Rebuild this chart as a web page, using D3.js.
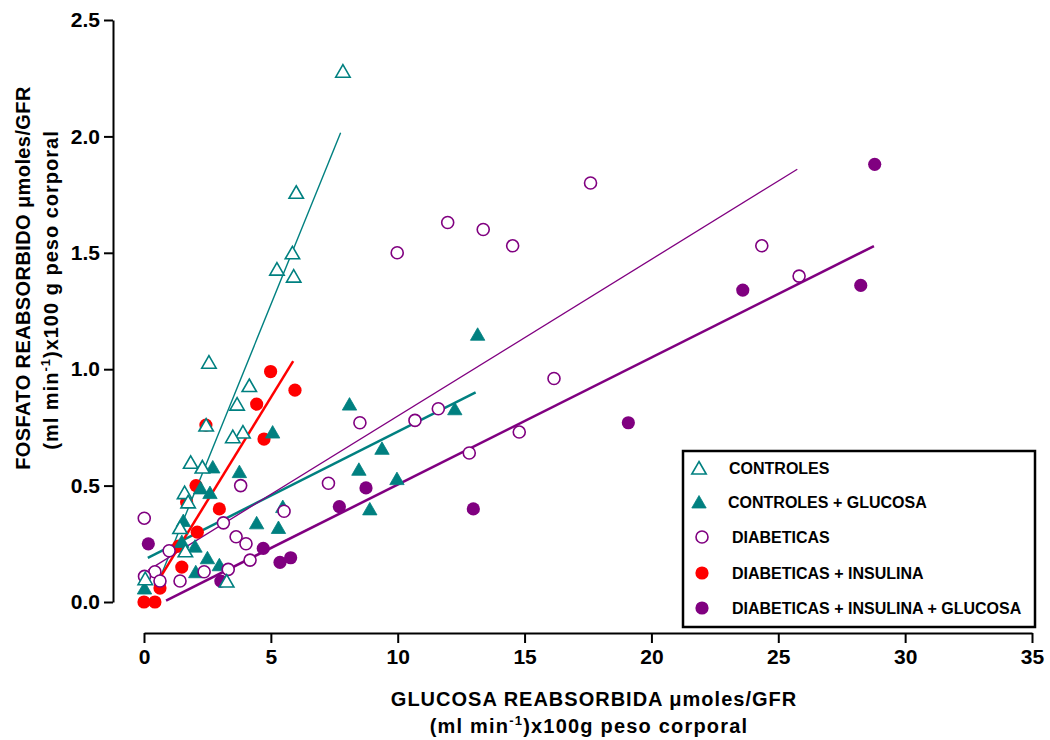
<!DOCTYPE html>
<html>
<head>
<meta charset="utf-8">
<script src="https://cdn.jsdelivr.net/npm/d3@7"></script>
<style>
  body { margin: 0; background: #fff; }
  text { font-family: "Liberation Sans", Arial, sans-serif; font-weight: bold; }
</style>
</head>
<body>
<svg id="chart" width="1050" height="740"></svg>
<script>
// data: [glucosa reabsorbida, fosfato reabsorbido]
const controles = [
  [7.84, 2.28], [6.0, 1.76], [5.85, 1.50], [5.24, 1.43], [5.9, 1.40], [2.56, 1.03],
  [4.15, 0.93], [3.67, 0.85], [3.9, 0.73], [3.5, 0.71], [2.45, 0.76], [1.84, 0.60],
  [2.3, 0.58], [1.6, 0.47], [1.74, 0.43], [1.42, 0.32], [1.63, 0.22], [0.05, 0.10],
  [3.26, 0.09]
];
const controlesGlucosa = [
  [13.15, 1.15], [8.1, 0.85], [12.25, 0.83], [5.07, 0.73], [9.38, 0.66], [8.47, 0.57],
  [9.97, 0.53], [8.9, 0.40], [3.76, 0.56], [2.71, 0.58], [2.23, 0.49], [2.6, 0.47],
  [5.47, 0.41], [4.44, 0.34], [5.3, 0.32], [1.55, 0.35], [1.49, 0.26], [2.01, 0.24],
  [2.5, 0.19], [2.97, 0.16], [2.04, 0.13], [0.02, 0.06]
];
const diabeticas = [
  [17.6, 1.80], [11.97, 1.63], [13.37, 1.60], [14.53, 1.53], [9.98, 1.50], [24.35, 1.53],
  [25.82, 1.40], [16.16, 0.96], [8.51, 0.77], [10.68, 0.78], [11.6, 0.83], [14.79, 0.73],
  [12.82, 0.64], [7.27, 0.51], [3.81, 0.50], [5.52, 0.39], [3.13, 0.34], [3.63, 0.28],
  [4.02, 0.25], [0.01, 0.36], [0.99, 0.22], [4.18, 0.18], [3.32, 0.14], [2.37, 0.13],
  [0.43, 0.13], [0.02, 0.11], [0.63, 0.09], [1.42, 0.09]
];
const diabInsulina = [
  [4.99, 0.99], [5.95, 0.91], [4.44, 0.85], [4.73, 0.70], [2.44, 0.76], [2.05, 0.50],
  [1.68, 0.43], [2.97, 0.40], [2.1, 0.30], [1.37, 0.24], [1.49, 0.15], [0.63, 0.06],
  [0.0, 0.0], [0.43, 0.0]
];
const diabInsGlucosa = [
  [28.8, 1.88], [23.6, 1.34], [28.25, 1.36], [19.09, 0.77], [8.75, 0.49], [7.7, 0.41],
  [12.98, 0.40], [4.7, 0.23], [5.78, 0.19], [5.36, 0.17], [0.17, 0.25], [3.03, 0.09]
];

// regression lines, end points
const fitControles = [[0.45, 0.055], [7.75, 2.016]];
const fitControlesGlucosa = [[0.15, 0.19], [13.07, 0.90]];
const fitDiabeticas = [[0.17, 0.137], [25.75, 1.859]];
const fitDiabInsulina = [[0.43, 0.068], [5.88, 1.035]];
const fitDiabInsGlucosa = [[0.87, 0.006], [28.77, 1.529]];

const xTicks = [0, 5, 10, 15, 20, 25, 30, 35];
const yTicks = [0, 0.5, 1.0, 1.5, 2.0, 2.5];

const TEAL = "#008080", PURPLE = "#800080", RED = "#ff0000";

const svg = d3.select("#chart");
svg.append("rect").attr("width", 1050).attr("height", 740).attr("fill", "#fff");

const x = d3.scaleLinear().domain([0, 35]).range([144, 1032]);
const y = d3.scaleLinear().domain([0, 2.5]).range([602, 20]);

// axes (offset like the original)
const yAxis = svg.append("g")
        .attr("transform", "translate(113,0)")
        .call(d3.axisLeft(y).tickValues(yTicks).tickFormat(d3.format(".1f"))
                .tickSize(9).tickSizeOuter(0).tickPadding(4));
const xAxis = svg.append("g")
        .attr("transform", "translate(0,633)")
        .call(d3.axisBottom(x).tickValues(xTicks).tickFormat(d3.format("d"))
                .tickSize(10).tickSizeOuter(0).tickPadding(6));

[yAxis, xAxis].forEach(function(g){
        g.selectAll("path, line").attr("stroke", "#000").attr("stroke-width", 2);
        g.selectAll("text")
                .attr("fill", "#000")
                .attr("font-size", "21px")
                .attr("font-family", "Liberation Sans, Arial, sans-serif")
                .attr("font-weight", "bold");
});

// axis titles
const xt = svg.append("text").attr("text-anchor", "middle")
        .attr("font-size", "20px").attr("letter-spacing", "1px");
xt.append("tspan").attr("x", 594).attr("y", 706).text("GLUCOSA REABSORBIDA \u03bcmoles/GFR");
const xt2 = svg.append("text").attr("text-anchor", "middle")
        .attr("font-size", "20px").attr("letter-spacing", "1.2px")
        .attr("x", 589).attr("y", 733);
xt2.append("tspan").text("(ml min");
xt2.append("tspan").attr("font-size", "13px").attr("dy", -8).text("-1");
xt2.append("tspan").attr("dy", 8).text(")x100g peso corporal");

const yt = svg.append("text").attr("text-anchor", "middle")
        .attr("font-size", "20px").attr("letter-spacing", "0.4px")
        .attr("transform", "translate(30,278) rotate(-90)")
        .text("FOSFATO REABSORBIDO \u03bcmoles/GFR");
const yt2 = svg.append("text").attr("text-anchor", "middle")
        .attr("font-size", "20px").attr("letter-spacing", "1px")
        .attr("transform", "translate(58,290) rotate(-90)");
yt2.append("tspan").text("(ml min");
yt2.append("tspan").attr("font-size", "13px").attr("dy", -8).text("-1");
yt2.append("tspan").attr("dy", 8).text(")x100 g peso corporal");

// regression lines
const line = d3.line().x(d => x(d[0])).y(d => y(d[1]));
const fits = [
        {data: fitControles, colour: TEAL, width: 1.4},
        {data: fitControlesGlucosa, colour: TEAL, width: 2.5},
        {data: fitDiabeticas, colour: PURPLE, width: 1.3},
        {data: fitDiabInsulina, colour: RED, width: 2.5},
        {data: fitDiabInsGlucosa, colour: PURPLE, width: 2.6}
];
fits.forEach(function(f){
        svg.append("path")
                .attr("d", line(f.data))
                .attr("fill", "none")
                .attr("stroke", f.colour)
                .attr("stroke-width", f.width);
});

// markers
const triPath = "M0,-6.5L7.2,6L-7.2,6Z";

function drawMarker(g, shape, colour, cx, cy){
        if(shape == "triOpen" || shape == "triFilled"){
                g.append("path")
                        .attr("d", triPath)
                        .attr("transform", "translate(" + cx + "," + cy + ")")
                        .attr("fill", shape == "triFilled" ? colour : "#fff")
                        .attr("stroke", colour)
                        .attr("stroke-width", shape == "triFilled" ? 0.8 : 1.6);
        } else {
                g.append("circle")
                        .attr("cx", cx).attr("cy", cy)
                        .attr("r", shape == "circFilled" ? 6.6 : 6.0)
                        .attr("fill", shape == "circFilled" ? colour : "#fff")
                        .attr("stroke", colour)
                        .attr("stroke-width", shape == "circFilled" ? 0 : 1.6);
        }
}

const series = [
        {name: "DIABETICAS + INSULINA + GLUCOSA", data: diabInsGlucosa, shape: "circFilled", colour: PURPLE},
        {name: "DIABETICAS + INSULINA", data: diabInsulina, shape: "circFilled", colour: RED},
        {name: "CONTROLES + GLUCOSA", data: controlesGlucosa, shape: "triFilled", colour: TEAL},
        {name: "DIABETICAS", data: diabeticas, shape: "circOpen", colour: PURPLE},
        {name: "CONTROLES", data: controles, shape: "triOpen", colour: TEAL}
];

series.forEach(function(s){
        const g = svg.append("g");
        s.data.forEach(d => drawMarker(g, s.shape, s.colour, x(d[0]), y(d[1])));
});

// legend
const legend = svg.append("g");
legend.append("rect")
        .attr("x", 683).attr("y", 451)
        .attr("width", 352).attr("height", 176)
        .attr("fill", "#fff")
        .attr("stroke", "#000")
        .attr("stroke-width", 2.5);

const legendOrder = ["CONTROLES", "CONTROLES + GLUCOSA", "DIABETICAS", "DIABETICAS + INSULINA", "DIABETICAS + INSULINA + GLUCOSA"];
const legendRowY = [468, 502, 537, 573, 608];
const legendTextX = [729, 728, 732, 732, 732];

legendOrder.forEach(function(name, i){
        const s = series.find(d => d.name == name);
        const mx = s.shape.startsWith("tri") ? 699 : 702;
        drawMarker(legend, s.shape, s.colour, mx, legendRowY[i]);
        legend.append("text")
                .attr("x", legendTextX[i])
                .attr("y", legendRowY[i] + 6)
                .attr("font-size", "16px")
                .attr("fill", "#000")
                .text(name);
});
</script>
</body>
</html>
